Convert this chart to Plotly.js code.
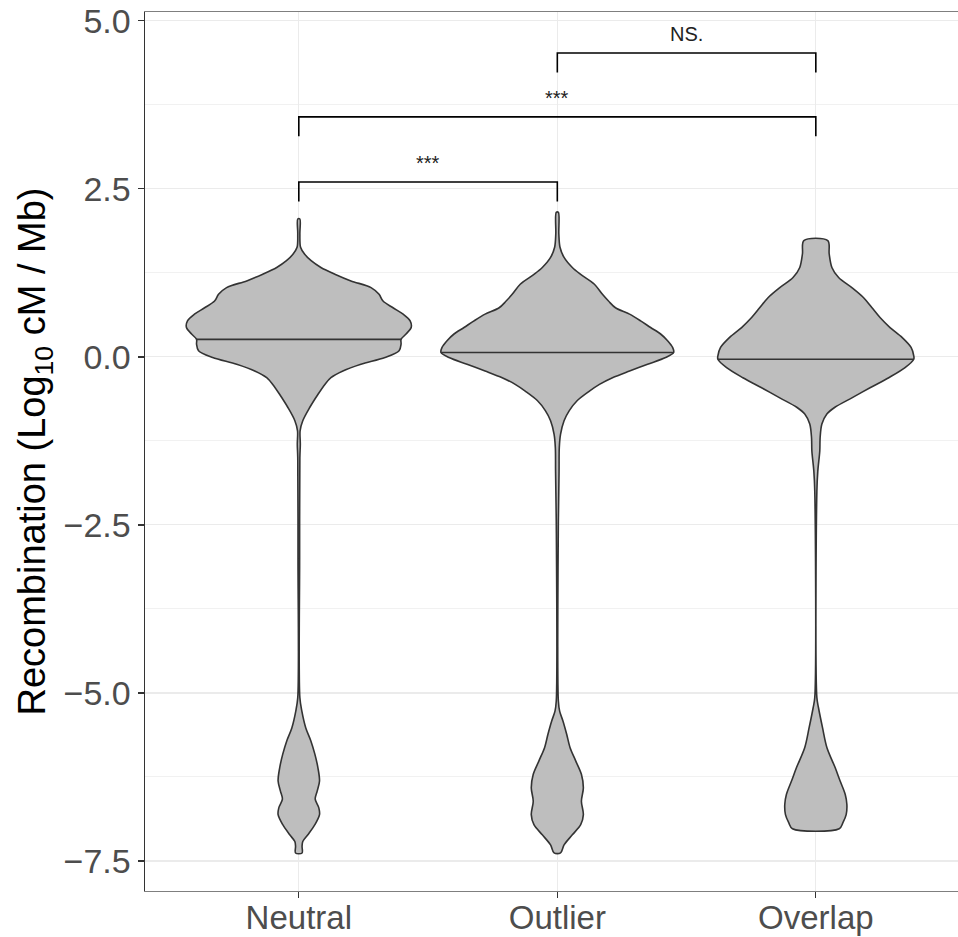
<!DOCTYPE html>
<html>
<head>
<meta charset="utf-8">
<script src="https://cdn.plot.ly/plotly-3.0.1.min.js"></script>
<style>
  html, body { margin: 0; padding: 0; background: #ffffff; }
  #chart { width: 958px; height: 937px; }
</style>
</head>
<body>
<div id="chart"></div>
<script>
// ---- Data ----
const categories = ["Neutral", "Outlier", "Overlap"];

// Violin outlines: y levels (log10 cM/Mb) and relative density (1 = widest violin)
const neutralY = [2.05, 1.83, 1.63, 1.53, 1.43, 1.33, 1.23, 1.13, 1.03, 0.93, 0.83, 0.73, 0.635, 0.536, 0.436, 0.34, 0.26, 0.19, 0.09, -0.01, -0.11, -0.21, -0.31, -0.41, -0.56, -0.75, -0.95, -1.10, -1.30, -1.50, -3.00, -5.07, -5.27, -5.52, -5.71, -5.91, -6.11, -6.31, -6.46, -6.58, -6.71, -6.81, -6.96, -7.11, -7.21, -7.28, -7.38];
const neutralDensity = [0.009, 0.009, 0.015, 0.049, 0.106, 0.19, 0.31, 0.448, 0.621, 0.69, 0.724, 0.81, 0.897, 0.957, 0.966, 0.922, 0.879, 0.879, 0.862, 0.741, 0.534, 0.379, 0.276, 0.224, 0.164, 0.095, 0.034, 0.011, 0.013, 0.009, 0.007, 0.009, 0.026, 0.06, 0.103, 0.138, 0.164, 0.178, 0.158, 0.141, 0.172, 0.178, 0.138, 0.078, 0.034, 0.028, 0.028];

const outlierY = [2.15, 1.83, 1.63, 1.48, 1.33, 1.23, 1.08, 0.93, 0.83, 0.73, 0.635, 0.536, 0.436, 0.34, 0.24, 0.14, 0.064, -0.01, -0.11, -0.21, -0.31, -0.41, -0.51, -0.65, -0.80, -0.95, -1.15, -1.35, -1.70, -2.44, -5.12, -5.27, -5.42, -5.61, -5.81, -6.01, -6.21, -6.41, -6.61, -6.81, -6.96, -7.11, -7.26, -7.38];
const outlierDensity = [0.009, 0.013, 0.023, 0.058, 0.129, 0.198, 0.319, 0.388, 0.44, 0.5, 0.621, 0.716, 0.802, 0.888, 0.948, 0.991, 1.0, 0.931, 0.776, 0.621, 0.474, 0.362, 0.276, 0.172, 0.103, 0.058, 0.028, 0.017, 0.015, 0.009, 0.009, 0.02, 0.049, 0.08, 0.109, 0.158, 0.207, 0.224, 0.207, 0.224, 0.201, 0.129, 0.058, 0.028];

const overlapY = [1.73, 1.53, 1.33, 1.18, 1.03, 0.88, 0.73, 0.585, 0.436, 0.29, 0.14, 0.015, -0.035, -0.16, -0.31, -0.46, -0.61, -0.75, -0.85, -1.00, -1.20, -1.40, -1.70, -2.00, -5.07, -5.22, -5.52, -5.81, -6.11, -6.31, -6.51, -6.66, -6.81, -6.93, -7.02];
const overlapDensity = [0.103, 0.115, 0.138, 0.196, 0.31, 0.411, 0.483, 0.552, 0.638, 0.741, 0.819, 0.842, 0.842, 0.767, 0.627, 0.466, 0.31, 0.164, 0.095, 0.052, 0.037, 0.034, 0.017, 0.009, 0.009, 0.023, 0.058, 0.095, 0.166, 0.209, 0.253, 0.267, 0.261, 0.233, 0.201];

const medians = [0.26, 0.064, -0.035];

// Significance brackets
const bracketFrom = ["Neutral", "Neutral", "Outlier"];
const bracketTo = ["Outlier", "Overlap", "Overlap"];
const bracketY = [2.60, 3.57, 4.52];
const bracketLabels = ["***", "***", "NS."];

// Tick labels
const yTickVals = [-7.5, -5.0, -2.5, 0.0, 2.5, 5.0];
const yTickText = ["\u22127.5", "\u22125.0", "\u22122.5", "0.0", "2.5", "5.0"];

// ---- Drawing ----
const violinYs = [neutralY, outlierY, overlapY];
const violinDs = [neutralDensity, outlierDensity, overlapDensity];
const HALF = 0.45;      // half of ggplot's default violin width (0.9)
const TIP = 0.29;       // bracket tip length in y units
const FONT = "Liberation Sans, Arial, sans-serif";

function widthAt(ys, ds, y) {
  for (let i = 0; i < ys.length - 1; i++) {
    const a = ys[i], b = ys[i + 1];
    if ((y <= a && y >= b) || (y >= a && y <= b)) {
      const t = (y - a) / (b - a);
      return ds[i] + t * (ds[i + 1] - ds[i]);
    }
  }
  return 0;
}

const traces = [];
categories.forEach((cat, i) => {
  const pos = i + 1;
  const ys = violinYs[i], ds = violinDs[i];
  const px = [], py = [];
  for (let k = 0; k < ys.length; k++) { px.push(pos + ds[k] * HALF); py.push(ys[k]); }
  for (let k = ys.length - 1; k >= 0; k--) { px.push(pos - ds[k] * HALF); py.push(ys[k]); }
  px.push(px[0]); py.push(py[0]);
  traces.push({
    type: "scatter", mode: "lines", x: px, y: py,
    fill: "toself", fillcolor: "#bebebe",
    line: { color: "#333333", width: 1.6, shape: "spline", smoothing: 0.9 },
    hoverinfo: "skip", showlegend: false
  });
  const w = widthAt(ys, ds, medians[i]) * HALF;
  traces.push({
    type: "scatter", mode: "lines",
    x: [pos - w, pos + w], y: [medians[i], medians[i]],
    line: { color: "#333333", width: 1.6 },
    hoverinfo: "skip", showlegend: false
  });
});

const annotations = [];
bracketY.forEach((by, j) => {
  const a = categories.indexOf(bracketFrom[j]) + 1;
  const b = categories.indexOf(bracketTo[j]) + 1;
  traces.push({
    type: "scatter", mode: "lines",
    x: [a, a, b, b], y: [by - TIP, by, by, by - TIP],
    line: { color: "#000000", width: 1.6 },
    hoverinfo: "skip", showlegend: false
  });
  annotations.push({
    x: (a + b) / 2, y: by, xref: "x", yref: "y",
    text: bracketLabels[j], showarrow: false,
    yanchor: "bottom", yshift: 6,
    font: { family: FONT, size: 20, color: "#222222" }
  });
});

const layout = {
  width: 958, height: 937,
  margin: { l: 145, r: 0, t: 12, b: 46 },
  paper_bgcolor: "#ffffff", plot_bgcolor: "#ffffff",
  showlegend: false,
  font: { family: FONT },
  xaxis: {
    range: [0.405, 3.55],
    tickvals: [1, 2, 3], ticktext: categories,
    showgrid: true, gridcolor: "#ebebeb", gridwidth: 1.1,
    zeroline: false,
    showline: true, linecolor: "#7f7f7f", linewidth: 1.3, mirror: true,
    ticks: "outside", ticklen: 6, tickwidth: 1.3, tickcolor: "#333333",
    ticklabelstandoff: -9,
    tickfont: { family: FONT, size: 33, color: "#4d4d4d" }
  },
  yaxis: {
    range: [-7.946, 5.13],
    tickvals: yTickVals, ticktext: yTickText,
    showgrid: true, gridcolor: "#ebebeb", gridwidth: 1.1,
    minor: { dtick: 1.25, tick0: -7.5, showgrid: true, gridcolor: "#f1f1f1", gridwidth: 1, ticks: "" },
    zeroline: false,
    showline: true, linecolor: "#333333", linewidth: 1.5,
    ticks: "outside", ticklen: 6, tickwidth: 1.3, tickcolor: "#333333",
    tickfont: { family: FONT, size: 34, color: "#4d4d4d" },
    title: { text: "Recombination (Log<sub>10</sub> cM / Mb)", font: { family: FONT, size: 38, color: "#000000" }, standoff: 6 }
  },
  annotations: annotations
};

Plotly.newPlot("chart", traces, layout, { displayModeBar: false, staticPlot: true });
</script>
</body>
</html>
